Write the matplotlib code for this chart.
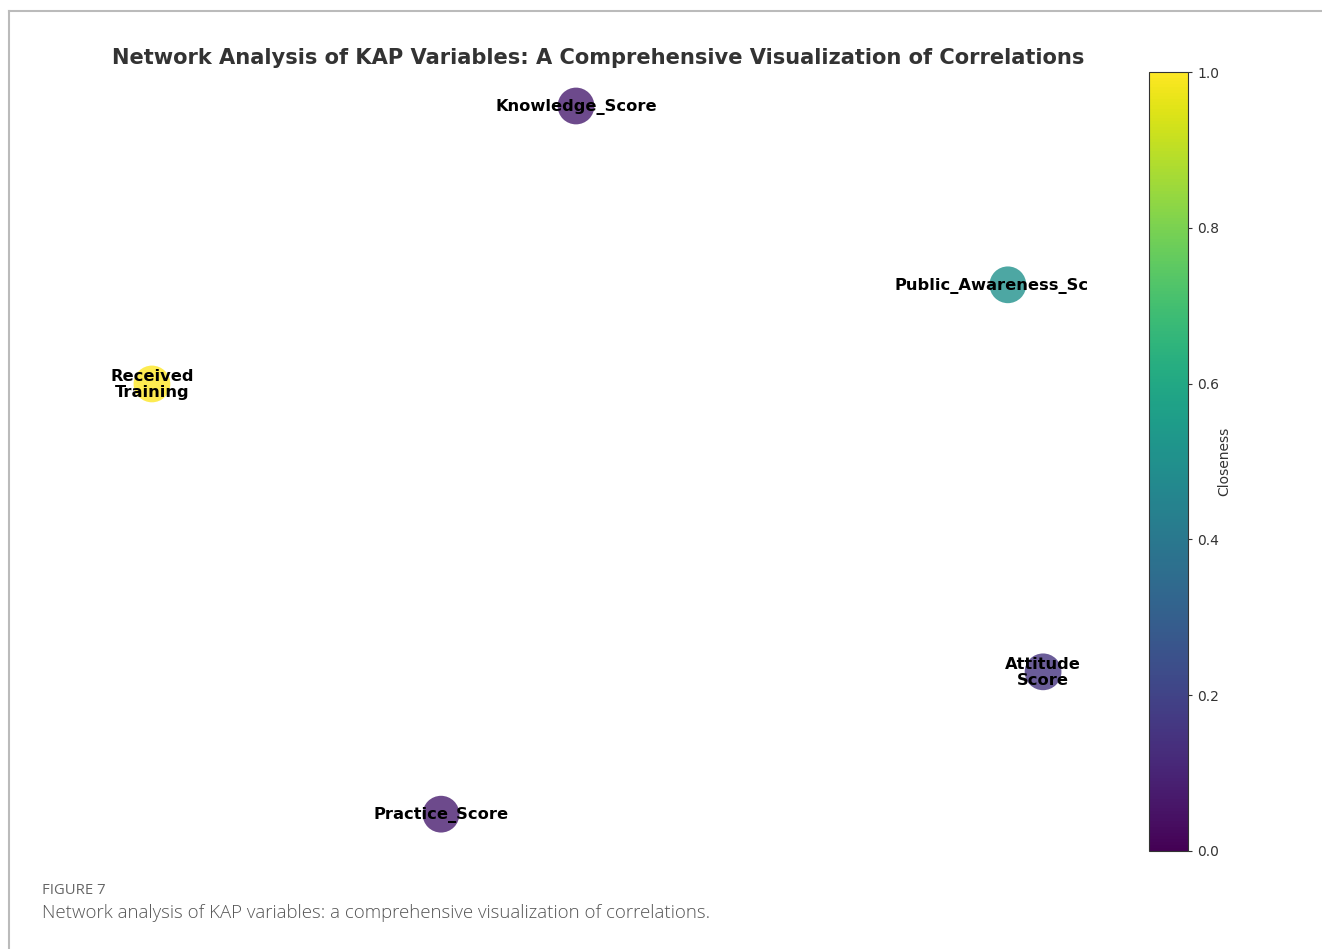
import matplotlib
matplotlib.use("Agg")
import matplotlib.pyplot as plt
from matplotlib.lines import Line2D
import numpy as np

plt.rcParams["font.family"] = ["DejaVu Sans"]

# ---- data ----
nodes = ["Knowledge_Score", "Public_Awareness_Sc", "Received\nTraining", "Attitude\nScore", "Practice_Score"]
pos_x = [-0.045, 0.838, -0.912, 0.910, -0.321]
pos_y = [1.004, 0.499, 0.219, -0.594, -0.996]
closeness = [0.08, 0.50, 1.00, 0.15, 0.08]
cbar_ticks = [0.0, 0.2, 0.4, 0.6, 0.8, 1.0]

title = "Network Analysis of KAP Variables: A Comprehensive Visualization of Correlations"
fig_label = "FIGURE 7"
caption = "Network analysis of KAP variables: a comprehensive visualization of correlations."

W, H = 1322, 949
fig = plt.figure(figsize=(W / 100, H / 100), dpi=100)
fig.patch.set_facecolor("white")

def fx(px):
    return px / W

def fy(py):
    return 1 - py / H

ax = fig.add_axes([fx(60), fy(851), fx(1136) - fx(60), fy(72) - fy(851)])
ax.set_xlim(-1.1, 1.1)
ax.set_ylim(-1.1, 1.1)
ax.axis("off")

sc = ax.scatter(pos_x, pos_y, c=closeness, cmap="viridis", vmin=0, vmax=1,
                s=700, alpha=0.8, edgecolors="none", zorder=2)

label_dx = [0, -16, 0, 0, 0]  # pixel offsets of labels
for name, x, y, dx in zip(nodes, pos_x, pos_y, label_dx):
    ax.annotate(name, (x, y), xytext=(dx * 0.72, -0.5), textcoords="offset points",
                ha="center", va="center", fontsize=11.7, fontweight="bold",
                color="black", linespacing=1.12, zorder=3)

cax = fig.add_axes([fx(1149), fy(851), fx(1188) - fx(1149), fy(72) - fy(851)])
cb = fig.colorbar(sc, cax=cax)
cb.solids.set_alpha(1)
cb.set_ticks(cbar_ticks)
cb.ax.tick_params(labelsize=10, colors="#333333", length=3)
cb.outline.set_edgecolor("#333333")
cb.set_label("Closeness", fontsize=10, color="#333333", labelpad=-1)

fig.text(fx(598), fy(58), title, ha="center", va="center", fontsize=15.1,
         fontweight="bold", color="#333333")

# frame of the figure panel
fig.add_artist(Line2D([fx(9), 1], [fy(11), fy(11)], color="#bbbbbb", lw=1.5))
fig.add_artist(Line2D([fx(9), fx(9)], [fy(11), 0], color="#bbbbbb", lw=1.5))

fig.text(fx(42), fy(890), fig_label, ha="left", va="center", fontsize=10.7,
         color="#666666", family=["Open Sans", "DejaVu Sans"])
fig.text(fx(42), fy(913), caption, ha="left", va="center", fontsize=13.4,
         color="#555555", family=["Open Sans", "DejaVu Sans"], fontweight="light")

fig.savefig("out.png", dpi=100)
